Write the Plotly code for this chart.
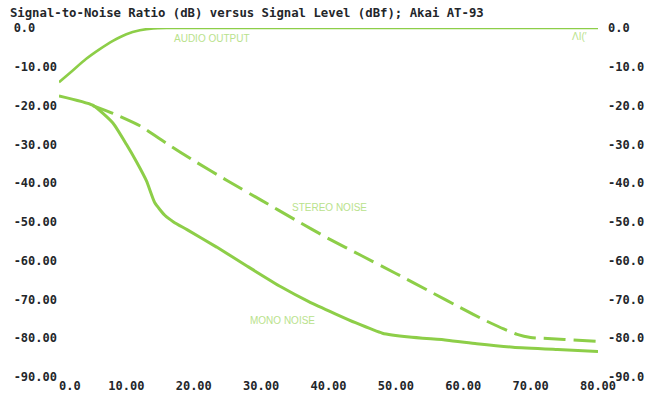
import plotly.graph_objects as go

# ---- data ----
audio_x = [0, 2, 4, 6, 8, 10, 12, 14, 16, 30, 50, 80]
audio_y = [-14, -11, -8, -5.5, -3.3, -1.6, -0.6, -0.1, 0, 0, 0, 0]

mono_x = [0, 5, 8, 10, 11.5, 13, 14.2, 15.7, 17, 19, 23.4, 28, 33, 37, 41, 44, 48, 52, 57.6, 62, 67.4, 74, 80]
mono_y = [-17.5, -19.9, -24.5, -30, -34.5, -39.5, -45, -48.3, -50, -52, -56.5, -61.5, -66.8, -70.5, -73.7, -76, -78.7, -79.7, -80.5, -81.4, -82.3, -82.9, -83.4]

stereo_x = [5, 8, 12, 16, 20, 25, 30, 35, 40, 45, 50, 55, 60, 63, 66, 68, 70, 75, 80]
stereo_y = [-20, -22, -25.2, -29.8, -34.2, -39.4, -44.4, -49.4, -54.3, -58.8, -63.3, -67.9, -72.5, -75.2, -77.6, -79, -79.8, -80.3, -80.8]

x_ticks = [0, 10, 20, 30, 40, 50, 60, 70, 80]
x_ticktext = ["\u00a0\u00a0\u00a00.0", "10.00", "20.00", "30.00", "40.00", "50.00", "60.00", "70.00", "80.00"]
y_ticks = [0, -10, -20, -30, -40, -50, -60, -70, -80, -90]
y_left_text = ["0.0\u00a0\u00a0\u00a0", "-10.00", "-20.00", "-30.00", "-40.00", "-50.00", "-60.00", "-70.00", "-80.00", "-90.00"]
y_right_text = ["0.0", "-10.0", "-20.0", "-30.0", "-40.0", "-50.0", "-60.0", "-70.0", "-80.0", "-90.0"]

labels = ["AUDIO OUTPUT", "STEREO NOISE", "MONO NOISE", "ΛI(′"]
label_x = [22.7, 40.2, 33.2, 77.3]
label_y = [-2.8, -46.2, -75.4, -2.3]

LINE = "rgb(141,206,72)"
LABEL = "rgb(185,226,140)"
TXT = "#23262a"
MONO = "DejaVu Sans Mono"

fig = go.Figure()
fig.add_trace(go.Scatter(x=audio_x, y=audio_y, mode="lines",
                         line=dict(color=LINE, width=2.6, shape="spline", smoothing=0.6),
                         cliponaxis=False, hoverinfo="skip"))
fig.add_trace(go.Scatter(x=mono_x, y=mono_y, mode="lines",
                         line=dict(color=LINE, width=3, shape="spline", smoothing=0.5),
                         cliponaxis=False, hoverinfo="skip"))
fig.add_trace(go.Scatter(x=stereo_x, y=stereo_y, mode="lines",
                         line=dict(color=LINE, width=3, shape="spline", smoothing=0.5, dash="22px,8px"),
                         cliponaxis=False, hoverinfo="skip"))
# invisible trace so the right-hand axis is drawn
fig.add_trace(go.Scatter(x=[0], y=[None], yaxis="y2", mode="lines", hoverinfo="skip"))

for t, lx, ly in zip(labels, label_x, label_y):
    fig.add_annotation(x=lx, y=ly, text=t, showarrow=False,
                       font=dict(family="Liberation Sans", size=10, color=LABEL))

tickfont = dict(family=MONO, size=12, color=TXT, weight="bold")

fig.update_layout(
    width=660, height=393,
    margin=dict(l=59, r=62, t=28, b=16),
    paper_bgcolor="white", plot_bgcolor="white",
    showlegend=False,
    title=dict(text="Signal-to-Noise Ratio (dB) versus Signal Level (dBf); Akai AT-93",
               x=0.015, xanchor="left", y=0.967, yanchor="middle",
               font=dict(family=MONO, size=12.3, color=TXT, weight="bold")),
    xaxis=dict(range=[0, 80], tickvals=x_ticks, ticktext=x_ticktext, showgrid=False,
               zeroline=False, showline=False, ticks="", tickfont=tickfont,
               ticklabelstandoff=0, automargin=False),
    yaxis=dict(range=[-90, 0], tickvals=y_ticks, ticktext=y_left_text, showgrid=False,
               zeroline=False, showline=False, ticks="", tickfont=tickfont,
               ticklabelstandoff=1, automargin=False),
    yaxis2=dict(range=[-90, 0], tickvals=y_ticks, ticktext=y_right_text, overlaying="y",
                side="right", showgrid=False, zeroline=False, showline=False, ticks="",
                tickfont=tickfont, ticklabelstandoff=9, automargin=False),
)

fig.write_html("out.html", config={"displayModeBar": False},
               post_script="document.body.style.margin='0';")
